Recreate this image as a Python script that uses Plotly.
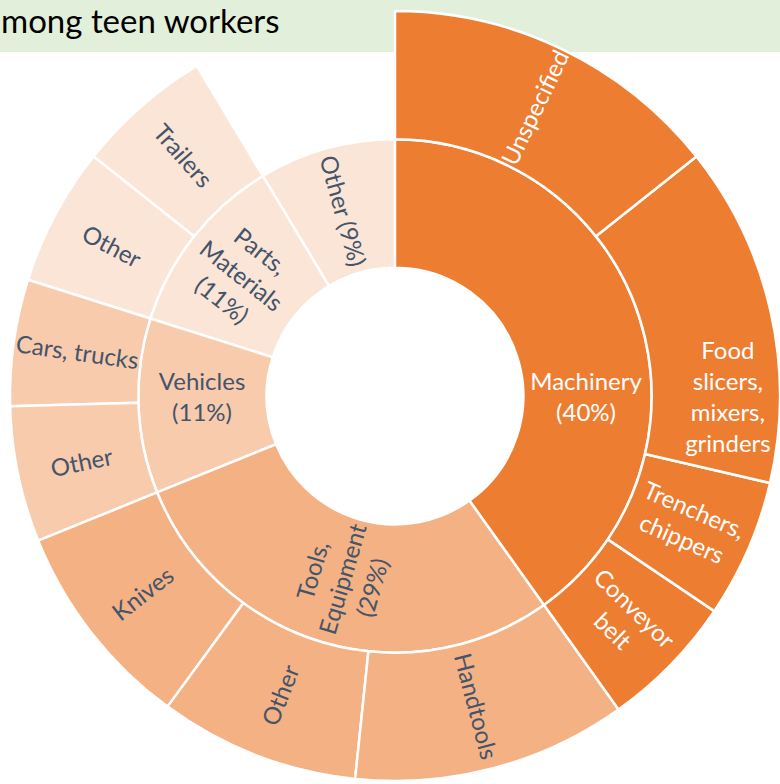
import plotly.graph_objects as go

# ---- data (counter-clockwise order starting at 12 o'clock) ----
ids = ["root",
       "Other9",
       "Parts", "Parts/Trailers", "Parts/Other",
       "Vehicles", "Vehicles/Cars", "Vehicles/Other",
       "Tools", "Tools/Knives", "Tools/Other", "Tools/Handtools",
       "Machinery", "Machinery/Conveyor", "Machinery/Trenchers", "Machinery/Food", "Machinery/Unspecified"]
parents = ["",
           "root",
           "root", "Parts", "Parts",
           "root", "Vehicles", "Vehicles",
           "root", "Tools", "Tools", "Tools",
           "root", "Machinery", "Machinery", "Machinery", "Machinery"]
labels = ["", "Other (9%)",
          "Parts,<br>Materials<br>(11%)", "Trailers", "Other",
          "Vehicles<br>(11%)", "Cars, trucks", "Other",
          "Tools,<br>Equipment<br>(29%)", "Knives", "Other", "Handtools",
          "Machinery<br>(40%)", "Conveyor<br>belt", "Trenchers,<br>chippers",
          "Food<br>slicers,<br>mixers,<br>grinders", "Unspecified"]
values = [0, 8.6,
          0, 5.7, 5.8,
          0, 5.3, 5.7,
          0, 8.8, 8.4, 11.5,
          0, 5.7, 5.8, 14.3, 14.3]

C_MACH = "#ED7D31"
C_TOOL = "#F4B183"
C_VEH = "#F8CBAD"
C_PART = "#FBE5D6"
colors = ["#FFFFFF", C_PART,
          C_PART, C_PART, C_PART,
          C_VEH, C_VEH, C_VEH,
          C_TOOL, C_TOOL, C_TOOL, C_TOOL,
          C_MACH, C_MACH, C_MACH, C_MACH, C_MACH]
DARK = "#44546A"
text_colors = ["#FFFFFF"] + [DARK] * 11 + ["#FFFFFF"] * 5

fig = go.Figure(go.Sunburst(
    ids=ids, parents=parents, labels=labels, values=values,
    branchvalues="remainder",
    sort=False,
    rotation=90,
    textinfo="label",
    insidetextorientation="radial",
    insidetextfont=dict(family="Lato", size=24, color=text_colors),
    marker=dict(colors=colors, line=dict(color="white", width=2.5)),
    leaf=dict(opacity=1),
    domain=dict(x=[10 / 780, 1], y=[0, 776 / 784]),
    hoverinfo="skip",
))

fig.add_shape(type="rect", xref="paper", yref="paper",
              x0=0, x1=1, y0=1 - 52 / 784, y1=1,
              fillcolor="#E2EFDA", line=dict(width=0), layer="below")
fig.add_annotation(text="mong teen workers", xref="paper", yref="paper",
                   x=0, y=1 - 20 / 784, xanchor="left", yanchor="middle",
                   showarrow=False, borderpad=0,
                   font=dict(family="Lato", size=33, color="#000000"))

fig.update_layout(width=780, height=784, margin=dict(l=0, r=0, t=0, b=0),
                  paper_bgcolor="white", showlegend=False)
fig.write_html("out.html", config={"displayModeBar": False},
               post_script="document.body.style.margin='0';document.body.style.overflow='hidden';")
